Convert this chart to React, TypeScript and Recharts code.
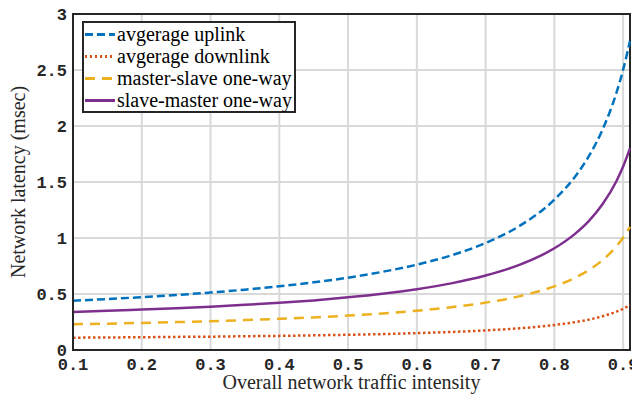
import React from "react";
import {
  LineChart,
  Line,
  XAxis,
  YAxis,
  CartesianGrid,
  Legend,
  Label,
  ReferenceArea,
} from "recharts";

// traffic intensity (x) and latency in msec for each series
const INTENSITY = [
  0.1, 0.15, 0.2, 0.25, 0.3, 0.35, 0.4, 0.45, 0.5, 0.55, 0.6, 0.65, 0.7, 0.75,
  0.8, 0.83, 0.85, 0.87, 0.89, 0.9, 0.91,
];
const UPLINK = [
  0.44, 0.455, 0.472, 0.491, 0.513, 0.539, 0.569, 0.604, 0.646, 0.698, 0.762,
  0.845, 0.955, 1.11, 1.342, 1.547, 1.729, 1.967, 2.291, 2.502, 2.76,
];
const DOWNLINK = [
  0.11, 0.112, 0.114, 0.117, 0.119, 0.123, 0.126, 0.131, 0.136, 0.142, 0.151,
  0.161, 0.175, 0.194, 0.223, 0.249, 0.271, 0.301, 0.342, 0.368, 0.4,
];
const MASTER_SLAVE = [
  0.23, 0.235, 0.242, 0.249, 0.257, 0.267, 0.278, 0.291, 0.307, 0.326, 0.351,
  0.382, 0.423, 0.481, 0.568, 0.645, 0.713, 0.802, 0.924, 1.003, 1.1,
];
const SLAVE_MASTER = [
  0.34, 0.35, 0.361, 0.373, 0.387, 0.403, 0.421, 0.443, 0.47, 0.502, 0.543,
  0.595, 0.665, 0.762, 0.908, 1.037, 1.151, 1.301, 1.505, 1.638, 1.8,
];

const X_TICKS = [0.1, 0.2, 0.3, 0.4, 0.5, 0.6, 0.7, 0.8, 0.9];
const Y_TICKS = [0, 0.5, 1, 1.5, 2, 2.5, 3];
const X_MIN = 0.1;
const X_MAX = 0.91;
const Y_MAX = 3;

const SERIES = [
  { key: "uplink", name: "avgerage uplink", color: "#0072BD", dash: [8, 4] },
  { key: "downlink", name: "avgerage downlink", color: "#D95319", dash: [2.5, 2.5] },
  { key: "ms", name: "master-slave one-way", color: "#EDB120", dash: [10, 7] },
  { key: "sm", name: "slave-master one-way", color: "#7E2F8E", dash: null },
];

const data = INTENSITY.map((x, i) => ({
  x,
  uplink: UPLINK[i],
  downlink: DOWNLINK[i],
  ms: MASTER_SLAVE[i],
  sm: SLAVE_MASTER[i],
}));

const AXIS = "#262626";

// fonts set with css instead of tick objects
const CSS = `
.recharts-wrapper, .recharts-surface { overflow: visible !important; }
.recharts-cartesian-axis-tick-value {
  font-family: "Liberation Mono", monospace;
  font-weight: bold;
  font-size: 17px;
  fill: ${AXIS};
}
.recharts-label {
  font-family: "Liberation Serif", serif;
  font-size: 20px;
  fill: ${AXIS};
}
`;

function sampleBg(color: string, dash: number[] | null) {
  if (!dash) return color;
  const [on, off] = dash;
  return `repeating-linear-gradient(to right, ${color} 0px, ${color} ${on}px, transparent ${on}px, transparent ${on + off}px)`;
}

function LegendBox() {
  return (
    <div
      style={{
        border: `2px solid ${AXIS}`,
        background: "#fff",
        width: 210,
        fontFamily: "Liberation Serif",
        fontSize: 20,
        color: "#000",
      }}
    >
      {SERIES.map((s) => (
        <div
          key={s.key}
          style={{ display: "flex", alignItems: "center", height: 22 }}
        >
          <div
            style={{
              flex: "none",
              width: 30,
              height: 3,
              marginLeft: 1,
              background: sampleBg(s.color, s.dash),
            }}
          />
          <span style={{ marginLeft: 2, whiteSpace: "nowrap" }}>{s.name}</span>
        </div>
      ))}
    </div>
  );
}

export default function App() {
  return (
    <div style={{ display: "inline-block", position: "relative", width: 624, height: 383 }}>
      <style>{CSS}</style>
      <LineChart
        width={624}
        height={383}
        data={data}
        margin={{ top: 6, right: 2, left: 0, bottom: 0 }}
      >
        <CartesianGrid stroke="#d9d9d9" strokeWidth={2} />
        <XAxis
          dataKey="x"
          type="number"
          domain={[X_MIN, X_MAX]}
          ticks={X_TICKS}
          interval={0}
          height={41}
          stroke={AXIS}
          strokeWidth={2}
          tickLine={false}
          tickMargin={2}
        >
          <Label value="Overall network traffic intensity" position="insideBottom" offset={2} />
        </XAxis>
        <YAxis
          type="number"
          domain={[0, Y_MAX]}
          ticks={Y_TICKS}
          interval={0}
          width={65}
          stroke={AXIS}
          strokeWidth={2}
          tickLine={false}
          tickMargin={0}
        >
          <Label
            value="Network latency (msec)"
            angle={-90}
            position="center"
            dx={-23}
          />
        </YAxis>
        <ReferenceArea
          x1={X_MIN}
          x2={X_MAX}
          y1={0}
          y2={Y_MAX}
          fill="none"
          fillOpacity={0}
          stroke={AXIS}
          strokeWidth={2}
          strokeOpacity={1}
          ifOverflow="visible"
        />
        <Legend
          layout="vertical"
          align="center"
          verticalAlign="middle"
          wrapperStyle={{ top: 13, left: 74, width: "auto" }}
          content={() => <LegendBox />}
        />
        {SERIES.map((s) => (
          <Line
            key={s.key}
            type="monotone"
            dataKey={s.key}
            stroke={s.color}
            strokeWidth={2.5}
            strokeDasharray={s.dash ? s.dash.join(" ") : undefined}
            dot={false}
            isAnimationActive={false}
          />
        ))}
      </LineChart>
    </div>
  );
}
